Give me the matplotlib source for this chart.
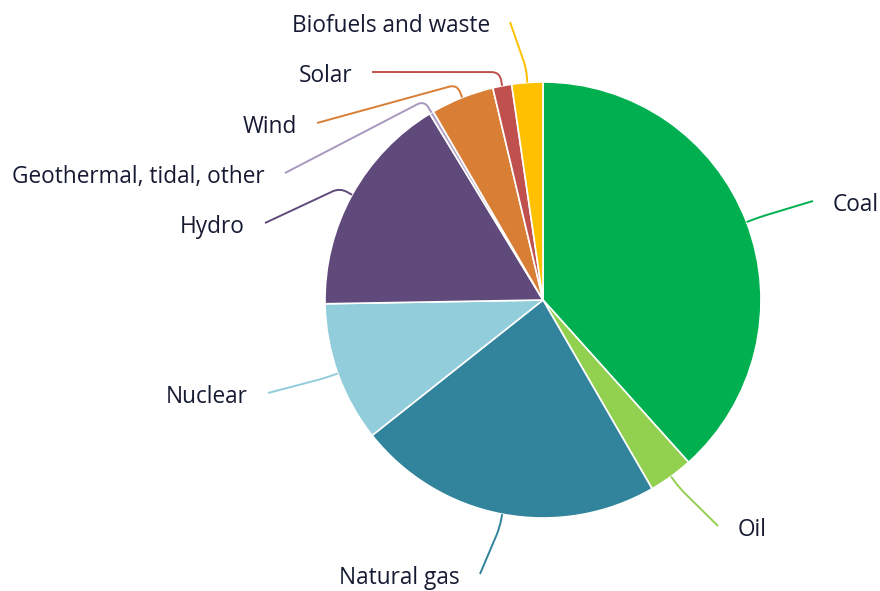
import matplotlib
matplotlib.use("Agg")
import matplotlib.pyplot as plt
import numpy as np
from matplotlib.path import Path
from matplotlib.patches import PathPatch

# share of generation (%), clockwise from 12 o'clock
categories = ["Coal", "Oil", "Natural gas", "Nuclear", "Hydro",
              "Geothermal, tidal, other", "Wind", "Solar", "Biofuels and waste"]
shares = [38.4, 3.3, 22.7, 10.4, 16.6, 0.3, 4.7, 1.4, 2.3]
colors = ["#00b050", "#92d050", "#31849b", "#92cddc", "#604a7b",
          "#b3a2c7", "#d97e35", "#c0504d", "#ffc000"]

# label anchors in pixels (x of text edge nearest the pie, y centre, from top)
label_x = [833, 738, 460, 248, 245, 265, 297, 352, 490]
label_y = [205, 530, 578, 397, 227, 177, 127, 76, 26]

W, H = 880, 591
CX, CY, R = 543, 300, 218
TEXT_COLOR = "#161b33"

fig = plt.figure(figsize=(W / 100, H / 100), dpi=100)
ax = fig.add_axes([0, 0, 1, 1])

wedges, _ = ax.pie(shares, colors=colors, startangle=90, counterclock=False,
                   center=(CX, H - CY), radius=R, frame=True,
                   wedgeprops=dict(edgecolor="white", linewidth=1.2))
ax.set_xlim(0, W)
ax.set_ylim(0, H)
ax.set_aspect("equal")
ax.axis("off")


def rounded_connector(p0, p1, p2, rad=8):
    p0, p1, p2 = map(np.asarray, (p0, p1, p2))
    d01 = p0 - p1
    d21 = p2 - p1
    n01 = np.linalg.norm(d01)
    n21 = np.linalg.norm(d21)
    a = p1 + d01 / n01 * min(rad, 0.6 * n01)
    b = p1 + d21 / n21 * min(rad, 0.4 * n21)
    verts = [p0, a, p1, b, p2]
    codes = [Path.MOVETO, Path.LINETO, Path.CURVE3, Path.CURVE3, Path.LINETO]
    return Path(verts, codes)


for w, name, col, lx, ly in zip(wedges, categories, colors, label_x, label_y):
    mid = np.deg2rad((w.theta1 + w.theta2) / 2)
    ux, uy = np.cos(mid), np.sin(mid)
    p0 = (CX + R * ux, H - CY + R * uy)
    p1 = (CX + (R + 14) * ux, H - CY + (R + 14) * uy)
    right = ux > 0
    end = (lx - 20 if right else lx + 20, H - (ly - 4))
    line_col = "#a898c0" if name.startswith("Geo") else col
    ax.add_patch(PathPatch(rounded_connector(p0, p1, end), facecolor="none",
                           edgecolor=line_col, linewidth=1.4))
    ax.text(lx, H - ly, name, ha="left" if right else "right", va="center",
            fontsize=16.3, family="Open Sans", color=TEXT_COLOR)

fig.savefig("out.png", dpi=100)
